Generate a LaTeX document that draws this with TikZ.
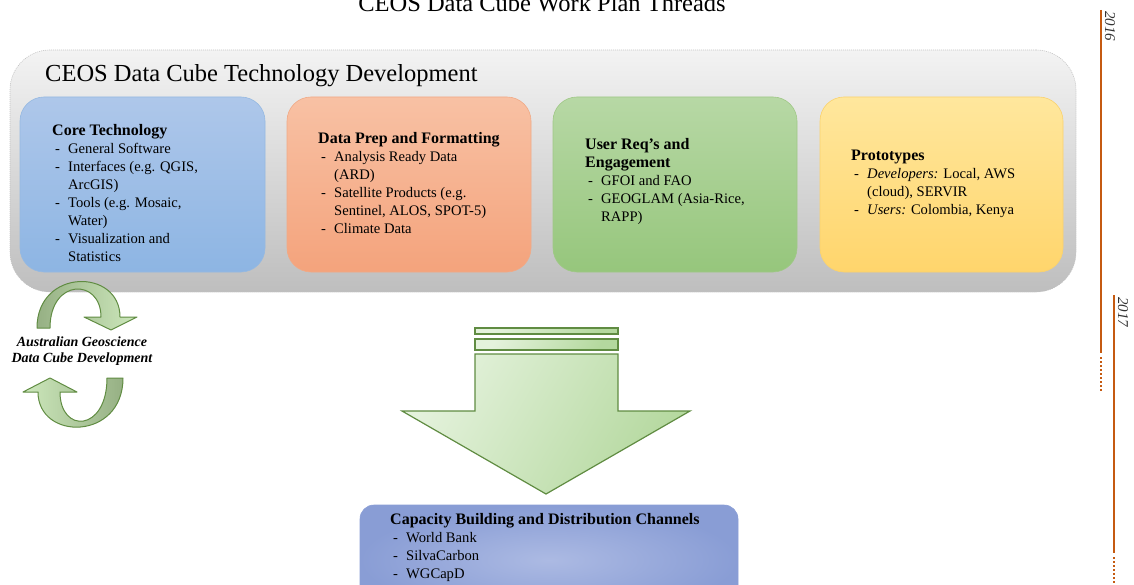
\documentclass[tikz,border=0pt]{standalone}
\usepackage{fontspec}
\setmainfont{Liberation Serif}
\definecolor{greytop}{RGB}{243,243,243}
\definecolor{greybot}{RGB}{190,190,190}
\definecolor{greyline}{RGB}{195,195,195}
\definecolor{bluetop}{RGB}{174,199,234}
\definecolor{bluebot}{RGB}{141,181,227}
\definecolor{blueline}{RGB}{150,185,225}
\definecolor{orgtop}{RGB}{248,193,164}
\definecolor{orgbot}{RGB}{244,163,124}
\definecolor{orgline}{RGB}{240,170,135}
\definecolor{grntop}{RGB}{183,216,165}
\definecolor{grnbot}{RGB}{150,198,124}
\definecolor{grnline}{RGB}{160,200,135}
\definecolor{ylwtop}{RGB}{255,231,157}
\definecolor{ylwbot}{RGB}{255,213,108}
\definecolor{ylwline}{RGB}{250,210,110}
\definecolor{capin}{RGB}{172,186,227}
\definecolor{capout}{RGB}{137,157,213}
\definecolor{arrline}{RGB}{96,140,66}
\definecolor{arrlight}{RGB}{228,242,220}
\definecolor{arrdark}{RGB}{180,216,158}
\definecolor{ribdark}{RGB}{150,176,132}
\definecolor{riblight}{RGB}{205,232,188}
\definecolor{tlcol}{RGB}{197,90,17}
\newcommand\ditem[1]{\hspace*{3pt}\makebox[13pt][l]{-}#1}
\newcommand\dcont[1]{\hspace*{16pt}#1}
\newcommand\hdg[1]{{\fontsize{16}{18}\selectfont\bfseries #1}}
\begin{document}
\begin{tikzpicture}[x=1pt,y=-1pt,
  bigfont/.style={font=\fontsize{24.5}{28}\selectfont},
  boxtext/.style={inner sep=0pt, anchor=base west, font=\fontsize{14.6}{18}\selectfont},
  colbox/.style={rectangle, rounded corners=24pt, line width=0.6pt, minimum width=#1, minimum height=175pt, inner sep=0pt},
  arrshape/.style={draw=arrline, line width=1.2pt, line join=miter},
  ribbon/.style={draw=arrline, line width=1pt, line join=round},
  tl/.style={draw=tlcol, line width=2.4pt},
  tldot/.style={draw=tlcol, line width=2.4pt, dash pattern=on 2pt off 2pt},
  yeartext/.style={inner sep=0pt, rotate=-90, anchor=base west, font=\itshape\fontsize{15}{16}\selectfont, text=black!80}
]
\useasboundingbox (0,0) rectangle (1134,585);
\clip (0,0) rectangle (1134,585);

% title
\node[bigfont, anchor=base, inner sep=0pt] (title) at (542,12) {CEOS Data Cube Work Plan Threads};

% technology development container
\node[rectangle, rounded corners=40pt, minimum width=1066pt, minimum height=242pt,
      top color=greytop, bottom color=greybot, draw=greyline, line width=0.6pt,
      dash pattern=on 1pt off 1pt] (tech) at (543,171) {};
\node[bigfont, anchor=base west, inner sep=0pt] (techlabel) at (45,82) {CEOS Data Cube Technology Development};

% four thread boxes
\node[colbox=245pt, top color=bluetop, bottom color=bluebot, draw=blueline] (core) at (142.5,184.5) {};
\node[colbox=244pt, top color=orgtop, bottom color=orgbot, draw=orgline] (prep) at (409,184.5) {};
\node[colbox=244pt, top color=grntop, bottom color=grnbot, draw=grnline] (user) at (675,184.5) {};
\node[colbox=243pt, top color=ylwtop, bottom color=ylwbot, draw=ylwline] (proto) at (941.5,184.5) {};

\node[boxtext] (coretext) at (52,136) {\parbox[t]{220pt}{\hdg{Core Technology}\\
\ditem{General Software}\\
\ditem{Interfaces (e.g. QGIS,}\\
\dcont{ArcGIS)}\\
\ditem{Tools (e.g. Mosaic,}\\
\dcont{Water)}\\
\ditem{Visualization and}\\
\dcont{Statistics}}};

\node[boxtext] (preptext) at (318,144) {\parbox[t]{220pt}{\hdg{Data Prep and Formatting}\\
\ditem{Analysis Ready Data}\\
\dcont{(ARD)}\\
\ditem{Satellite Products (e.g.}\\
\dcont{Sentinel, ALOS, SPOT-5)}\\
\ditem{Climate Data}}};

\node[boxtext] (usertext) at (585,150) {\parbox[t]{220pt}{\hdg{User Req’s and}\\
\hdg{Engagement}\\
\ditem{GFOI and FAO}\\
\ditem{GEOGLAM (Asia-Rice,}\\
\dcont{RAPP)}}};

\node[boxtext] (prototext) at (851,161) {\parbox[t]{220pt}{\hdg{Prototypes}\\
\ditem{\textit{Developers:} Local, AWS}\\
\dcont{(cloud), SERVIR}\\
\ditem{\textit{Users:} Colombia, Kenya}}};

% circular arrows (Australian Geoscience Data Cube)
\shade[ribbon, left color=ribdark, right color=riblight]
  (37,328) .. controls (37,268) and (120,268) .. (120,317)
  -- (137,317) -- (111,330) -- (84,317) -- (101,317)
  .. controls (101,278) and (50,278) .. (50,328) -- cycle;
\shade[ribbon, left color=riblight, right color=ribdark]
  (123,378) .. controls (123,441) and (38,441) .. (38,392)
  -- (23,392) -- (50,378) -- (77,392) -- (60,392)
  .. controls (60,434) and (107,432) .. (107,378) -- cycle;
\node[align=center, inner sep=0pt, font=\bfseries\itshape\fontsize{14}{16}\selectfont] (agdc) at (82,351)
  {Australian Geoscience\\Data Cube Development};

% big down arrow
\shade[arrshape, left color=arrlight, right color=arrdark, shading angle=60]
  (475,328) rectangle (618,334);
\shade[arrshape, left color=arrlight, right color=arrdark, shading angle=60]
  (475,339) rectangle (618,350);
\shade[arrshape, left color=arrlight, right color=arrdark, shading angle=60]
  (475,354) -- (618,354) -- (618,411) -- (690,411) -- (546,494) -- (402,411) -- (475,411) -- cycle;

% capacity building box
\node[rectangle, rounded corners=14pt, minimum width=378pt, minimum height=110pt,
      inner color=capin, outer color=capout, draw=capout, line width=0.6pt] (cap) at (549,560) {};
\node[boxtext] (captext) at (390,524) {\parbox[t]{340pt}{\hdg{Capacity Building and Distribution Channels}\\
\ditem{World Bank}\\
\ditem{SilvaCarbon}\\
\ditem{WGCapD}}};

% timeline
\coordinate (t16a) at (1101,10);
\coordinate (t16b) at (1101,353);
\coordinate (t16c) at (1101,357);
\coordinate (t16d) at (1101,392);
\coordinate (t17a) at (1114,295);
\coordinate (t17b) at (1114,553);
\coordinate (t17c) at (1114,557);
\coordinate (t17d) at (1114,590);
\draw[tl] (t16a) -- (t16b);
\draw[tldot] (t16c) -- (t16d);
\draw[tl] (t17a) -- (t17b);
\draw[tldot] (t17c) -- (t17d);
\node[yeartext] (y2016) at (1105,11) {2016};
\node[yeartext] (y2017) at (1118,297) {2017};
\end{tikzpicture}
\end{document}
